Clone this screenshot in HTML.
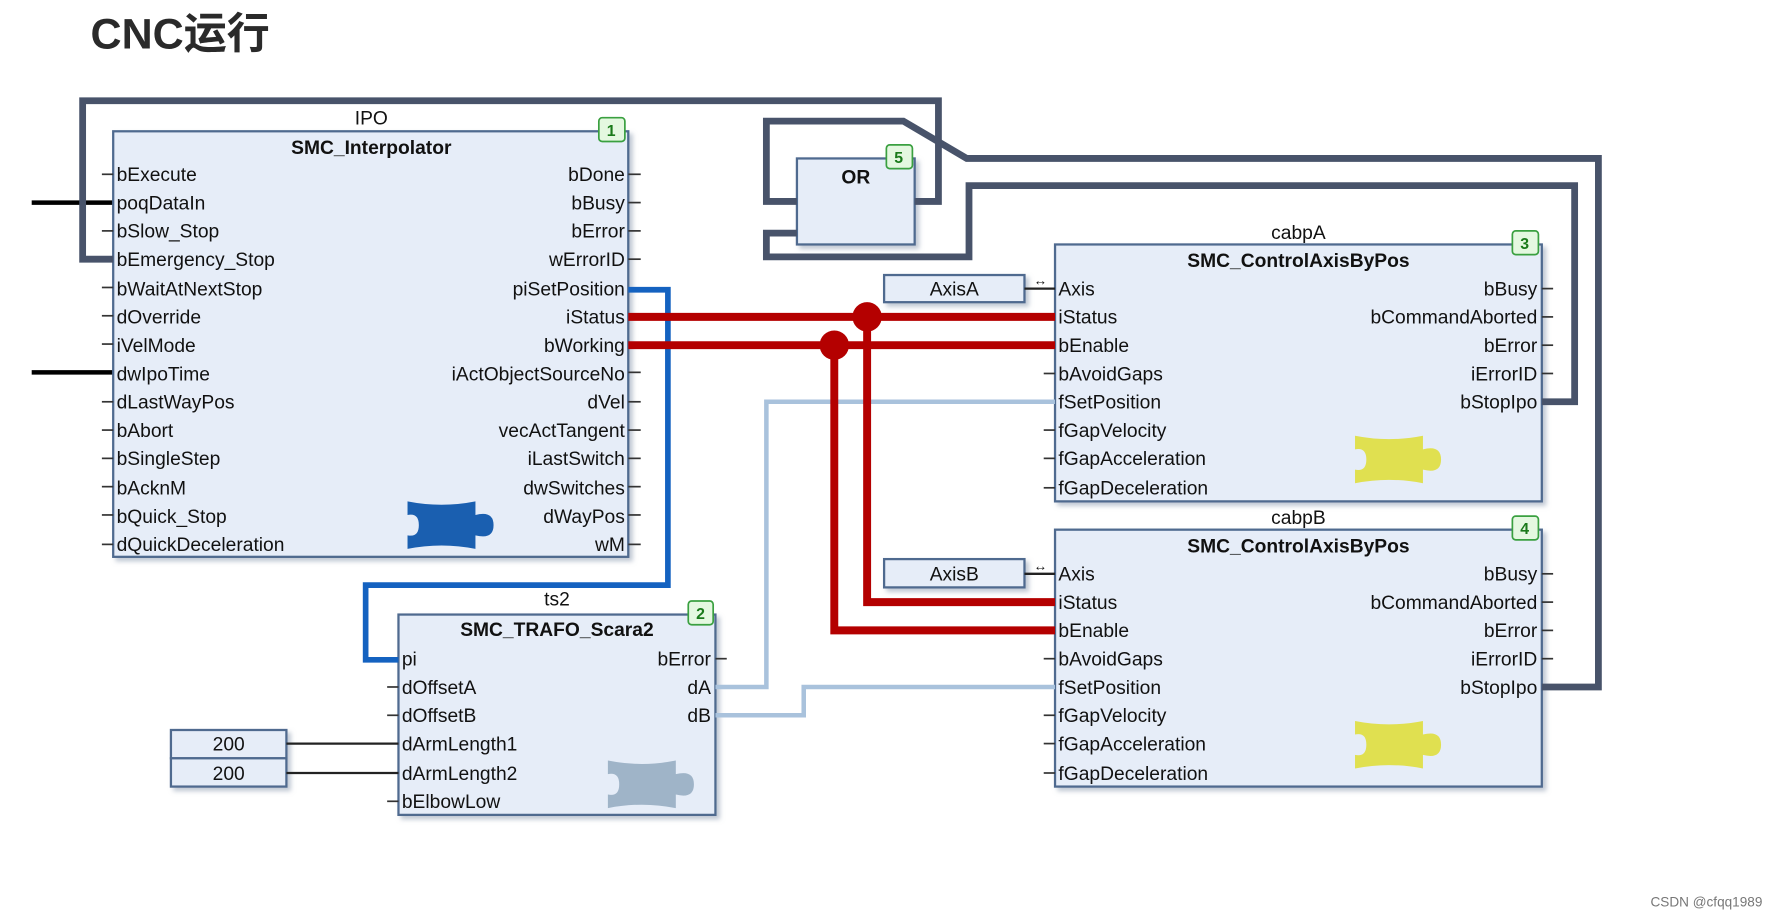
<!DOCTYPE html>
<html><head><meta charset="utf-8"><style>
html,body{margin:0;padding:0;background:#fff;}
svg{display:block;}
text{font-family:"Liberation Sans",Arial,sans-serif;fill:#111;}
.t{font-size:17px;}
.b{font-weight:bold;font-size:17px;}
.n{font-size:14px;font-weight:bold;fill:#1a7a1a;}
</style></head><body>
<svg width="1775" height="919" viewBox="0 0 1568 812" preserveAspectRatio="none" xmlns="http://www.w3.org/2000/svg">
<defs>
<filter id="sh" x="-5%" y="-5%" width="115%" height="115%"><feDropShadow dx="3" dy="3" stdDeviation="2" flood-color="#8090a8" flood-opacity="0.5"/></filter>
</defs>
<text x="80" y="43" style="font-family:'Liberation Sans','Noto Sans CJK SC',sans-serif;font-size:38px;font-weight:bold;fill:#2a2a2a">CNC运行</text>

<line x1="28" y1="179" x2="100" y2="179" stroke="#000" stroke-width="4"/>
<line x1="28" y1="329" x2="100" y2="329" stroke="#000" stroke-width="4"/>

<g fill="#e6edf8" stroke="#4f6a8f" stroke-width="2" filter="url(#sh)">
<rect x="100" y="116" width="455" height="376"/>
<rect x="352" y="543" width="280" height="177"/>
<rect x="704" y="140" width="104" height="76"/>
<rect x="932" y="216" width="430" height="227"/>
<rect x="932" y="468" width="430" height="227"/>
<rect x="781" y="243" width="124" height="24"/>
<rect x="781" y="494" width="124" height="25"/>
<rect x="151" y="645" width="102" height="25"/>
<rect x="151" y="670" width="102" height="25"/>
</g>

<g fill="none" stroke="#48536a" stroke-width="6" stroke-linejoin="miter">
<polyline points="100,229 73,229 73,89 829,89 829,178 808,178"/>
<polyline points="704,178 677,178 677,107 798,107 854,140 1412,140 1412,607 1362,607"/>
<polyline points="704,206 677,206 677,227 856,227 856,164 1391,164 1391,355 1362,355"/>
</g>

<polyline points="555,256 590,256 590,517 323,517 323,583 352,583" fill="none" stroke="#1462c0" stroke-width="5"/>
<g fill="none" stroke="#a9c2dc" stroke-width="4">
<polyline points="632,607 677,607 677,355 932,355"/>
<polyline points="632,632 710,632 710,607 932,607"/>
</g>
<g fill="none" stroke="#b40000" stroke-width="7">
<line x1="555" y1="280" x2="932" y2="280"/>
<line x1="555" y1="305" x2="932" y2="305"/>
<polyline points="766,280 766,532 932,532"/>
<polyline points="737,305 737,557 932,557"/>
</g>
<circle cx="766" cy="280" r="13" fill="#b40000"/>
<circle cx="737" cy="305" r="13" fill="#b40000"/>

<g stroke="#222" stroke-width="2">
<line x1="253" y1="657" x2="352" y2="657"/><line x1="253" y1="683" x2="352" y2="683"/>
<line x1="905" y1="255" x2="932" y2="255"/><line x1="905" y1="507" x2="932" y2="507"/>
</g>
<text x="913" y="252" style="font-size:12px">↔</text>
<text x="913" y="504" style="font-size:12px">↔</text>

<g stroke="#333" stroke-width="1.5">
<line x1="90" y1="154" x2="100" y2="154"/><line x1="90" y1="204" x2="100" y2="204"/><line x1="90" y1="254" x2="100" y2="254"/><line x1="90" y1="279" x2="100" y2="279"/><line x1="90" y1="304" x2="100" y2="304"/><line x1="90" y1="355" x2="100" y2="355"/><line x1="90" y1="380" x2="100" y2="380"/><line x1="90" y1="405" x2="100" y2="405"/><line x1="90" y1="430" x2="100" y2="430"/><line x1="90" y1="455" x2="100" y2="455"/><line x1="90" y1="481" x2="100" y2="481"/>
<line x1="555" y1="154" x2="566" y2="154"/><line x1="555" y1="179" x2="566" y2="179"/><line x1="555" y1="204" x2="566" y2="204"/><line x1="555" y1="229" x2="566" y2="229"/><line x1="555" y1="329" x2="566" y2="329"/><line x1="555" y1="355" x2="566" y2="355"/><line x1="555" y1="380" x2="566" y2="380"/><line x1="555" y1="405" x2="566" y2="405"/><line x1="555" y1="430" x2="566" y2="430"/><line x1="555" y1="455" x2="566" y2="455"/><line x1="555" y1="481" x2="566" y2="481"/>
<line x1="342" y1="607" x2="352" y2="607"/><line x1="342" y1="632" x2="352" y2="632"/><line x1="342" y1="708" x2="352" y2="708"/><line x1="632" y1="582" x2="642" y2="582"/>
<line x1="922" y1="330" x2="932" y2="330"/><line x1="922" y1="380" x2="932" y2="380"/><line x1="922" y1="405" x2="932" y2="405"/><line x1="922" y1="431" x2="932" y2="431"/>
<line x1="922" y1="582" x2="932" y2="582"/><line x1="922" y1="632" x2="932" y2="632"/><line x1="922" y1="657" x2="932" y2="657"/><line x1="922" y1="683" x2="932" y2="683"/>
<line x1="1362" y1="255" x2="1372" y2="255"/><line x1="1362" y1="280" x2="1372" y2="280"/><line x1="1362" y1="305" x2="1372" y2="305"/><line x1="1362" y1="330" x2="1372" y2="330"/>
<line x1="1362" y1="507" x2="1372" y2="507"/><line x1="1362" y1="532" x2="1372" y2="532"/><line x1="1362" y1="557" x2="1372" y2="557"/><line x1="1362" y1="582" x2="1372" y2="582"/>
</g>

<g fill="#e4f8e0" stroke="#3aa040" stroke-width="1.5">
<rect x="529" y="104" width="23" height="21" rx="3"/>
<rect x="608" y="531" width="22" height="21" rx="3"/>
<rect x="783" y="128" width="23" height="21" rx="3"/>
<rect x="1336" y="204" width="23" height="21" rx="3"/>
<rect x="1336" y="456" width="23" height="21" rx="3"/>
</g>
<text class="n" x="536" y="120">1</text>
<text class="n" x="615" y="547">2</text>
<text class="n" x="790" y="144">5</text>
<text class="n" x="1343" y="220">3</text>
<text class="n" x="1343" y="472">4</text>

<text class="t" x="328" y="110" text-anchor="middle">IPO</text>
<text class="b" x="328" y="136" text-anchor="middle">SMC_Interpolator</text>
<g class="t">
<text x="103" y="160">bExecute</text><text x="103" y="185">poqDataIn</text><text x="103" y="210">bSlow_Stop</text><text x="103" y="235">bEmergency_Stop</text><text x="103" y="261">bWaitAtNextStop</text><text x="103" y="286">dOverride</text><text x="103" y="311">iVelMode</text><text x="103" y="336">dwIpoTime</text><text x="103" y="361">dLastWayPos</text><text x="103" y="386">bAbort</text><text x="103" y="411">bSingleStep</text><text x="103" y="437">bAcknM</text><text x="103" y="462">bQuick_Stop</text><text x="103" y="487">dQuickDeceleration</text>
</g>
<g class="t" text-anchor="end">
<text x="552" y="160">bDone</text><text x="552" y="185">bBusy</text><text x="552" y="210">bError</text><text x="552" y="235">wErrorID</text><text x="552" y="261">piSetPosition</text><text x="552" y="286">iStatus</text><text x="552" y="311">bWorking</text><text x="552" y="336">iActObjectSourceNo</text><text x="552" y="361">dVel</text><text x="552" y="386">vecActTangent</text><text x="552" y="411">iLastSwitch</text><text x="552" y="437">dwSwitches</text><text x="552" y="462">dWayPos</text><text x="552" y="487">wM</text>
</g>

<text class="t" x="492" y="535" text-anchor="middle">ts2</text>
<text class="b" x="492" y="562" text-anchor="middle">SMC_TRAFO_Scara2</text>
<g class="t">
<text x="355" y="588">pi</text><text x="355" y="613">dOffsetA</text><text x="355" y="638">dOffsetB</text><text x="355" y="663">dArmLength1</text><text x="355" y="689">dArmLength2</text><text x="355" y="714">bElbowLow</text>
</g>
<g class="t" text-anchor="end"><text x="628" y="588">bError</text><text x="628" y="613">dA</text><text x="628" y="638">dB</text></g>
<text class="t" x="202" y="663" text-anchor="middle">200</text>
<text class="t" x="202" y="689" text-anchor="middle">200</text>

<text class="b" x="756" y="162" text-anchor="middle">OR</text>

<text class="t" x="1147" y="211" text-anchor="middle">cabpA</text>
<text class="b" x="1147" y="236" text-anchor="middle">SMC_ControlAxisByPos</text>
<text class="t" x="843" y="261" text-anchor="middle">AxisA</text>
<g class="t">
<text x="935" y="261">Axis</text><text x="935" y="286">iStatus</text><text x="935" y="311">bEnable</text><text x="935" y="336">bAvoidGaps</text><text x="935" y="361">fSetPosition</text><text x="935" y="386">fGapVelocity</text><text x="935" y="411">fGapAcceleration</text><text x="935" y="437">fGapDeceleration</text>
</g>
<g class="t" text-anchor="end"><text x="1358" y="261">bBusy</text><text x="1358" y="286">bCommandAborted</text><text x="1358" y="311">bError</text><text x="1358" y="336">iErrorID</text><text x="1358" y="361">bStopIpo</text></g>

<text class="t" x="1147" y="463" text-anchor="middle">cabpB</text>
<text class="b" x="1147" y="488" text-anchor="middle">SMC_ControlAxisByPos</text>
<text class="t" x="843" y="513" text-anchor="middle">AxisB</text>
<g class="t">
<text x="935" y="513">Axis</text><text x="935" y="538">iStatus</text><text x="935" y="563">bEnable</text><text x="935" y="588">bAvoidGaps</text><text x="935" y="613">fSetPosition</text><text x="935" y="638">fGapVelocity</text><text x="935" y="663">fGapAcceleration</text><text x="935" y="689">fGapDeceleration</text>
</g>
<g class="t" text-anchor="end"><text x="1358" y="513">bBusy</text><text x="1358" y="538">bCommandAborted</text><text x="1358" y="563">bError</text><text x="1358" y="588">iErrorID</text><text x="1358" y="613">bStopIpo</text></g>

<g>
<path d="M360,443 q30,6 60,0 v12 q16,-4 16,9 q0,13 -16,9 v12 q-30,-6 -60,0 v-12 q10,2 10,-9 q0,-11 -10,-9 z" fill="#1a5fb0"/>
<path d="M1197,385 q30,6 60,0 v12 q16,-4 16,9 q0,13 -16,9 v12 q-30,-6 -60,0 v-12 q10,2 10,-9 q0,-11 -10,-9 z" fill="#e0e050"/>
<path d="M1197,637 q30,6 60,0 v12 q16,-4 16,9 q0,13 -16,9 v12 q-30,-6 -60,0 v-12 q10,2 10,-9 q0,-11 -10,-9 z" fill="#e0e050"/>
<path d="M537,672 q30,6 60,0 v12 q16,-4 16,9 q0,13 -16,9 v12 q-30,-6 -60,0 v-12 q10,2 10,-9 q0,-11 -10,-9 z" fill="#9fb4c8"/>
</g>

<text x="1458" y="801" style="font-size:12px;fill:#777">CSDN @cfqq1989</text>
</svg>
</body></html>
